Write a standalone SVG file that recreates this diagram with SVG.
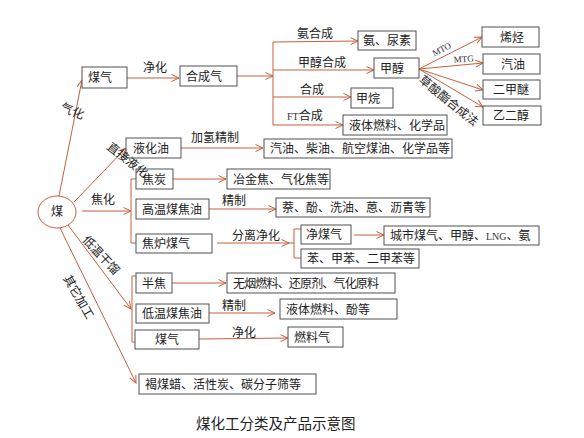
<svg xmlns="http://www.w3.org/2000/svg" width="584" height="438" viewBox="0 0 584 438">
<defs>
<marker id="ah" markerWidth="9" markerHeight="8" refX="8" refY="4" orient="auto" markerUnits="userSpaceOnUse">
<path d="M0.5,0.5 L8,4 L0.5,7.5" fill="none" stroke="#c4603e" stroke-width="1"/>
</marker>
</defs>
<style>
.b{fill:#fff;stroke:#505050;stroke-width:1}
.t{font-family:"Noto Sans CJK SC","Liberation Sans",sans-serif;font-size:12px;fill:#222}
.s{font-family:"Liberation Serif",serif;font-size:9px;fill:#333}
.c{fill:none;stroke:#c4603e;stroke-width:1}
.a{fill:none;stroke:#c4603e;stroke-width:1;marker-end:url(#ah)}
</style>
<rect width="584" height="438" fill="#fff"/>
<g id="connectors">
<path class="a" d="M59,196 L82,80"/>
<path class="a" d="M127,78 L179,78"/>
<path class="a" d="M237,76 L273,76"/>
<path class="c" d="M273,42 L273,125"/>
<path class="a" d="M273,42 L358,41"/>
<path class="a" d="M273,70 L374,70"/>
<path class="a" d="M273,97 L351,97"/>
<path class="a" d="M273,125 L343,125"/>
<path class="a" d="M419,69 L482,37"/>
<path class="a" d="M419,69 L483,63"/>
<path class="a" d="M419,69 L483,90"/>
<path class="a" d="M419,69 L483,107"/>
<path class="a" d="M74,202 L126,148"/>
<path class="a" d="M181,148 L263,148"/>
<path class="a" d="M82,211 L131,211"/>
<path class="c" d="M136,179 L131,179 L131,243 L136,243"/>
<path class="a" d="M173,179 L226,179"/>
<path class="a" d="M209,209 L276,209"/>
<path class="a" d="M217,243 L289,243"/>
<path class="c" d="M289,243 L294,243 M301,229 L294,229 L294,258 L301,258"/>
<path class="a" d="M354,235 L384,235"/>
<path class="a" d="M68,225 L131,309"/>
<path class="c" d="M136,276 L132,276 L132,342 L136,342"/>
<path class="a" d="M172,283 L226,283"/>
<path class="a" d="M209,313 L275,313"/>
<path class="a" d="M199,339 L288,338"/>
<path class="a" d="M60,228 L136,383"/>
</g>
<g id="n-coal"><ellipse cx="57" cy="212" rx="19" ry="16" fill="#fff" stroke="#c4603e" stroke-width="1"/><text class="t" x="57" y="216" text-anchor="middle">煤</text></g>
<g id="n-meiqi"><rect class="b" x="82" y="67" width="45" height="21"/><text class="t" x="88" y="82">煤气</text></g>
<g id="n-hechengqi"><rect class="b" x="180" y="66" width="57" height="20"/><text class="t" x="186" y="81">合成气</text></g>
<g id="n-an"><rect class="b" x="358" y="31" width="58" height="19"/><text class="t" x="363" y="45">氨、尿素</text></g>
<g id="n-jiachun"><rect class="b" x="374" y="58" width="45" height="20"/><text class="t" x="380" y="73">甲醇</text></g>
<g id="n-jiawan"><rect class="b" x="351" y="88" width="42" height="20"/><text class="t" x="356" y="103">甲烷</text></g>
<g id="n-ft"><rect class="b" x="343" y="115" width="104" height="20"/><text class="t" x="349" y="130">液体燃料、化学品</text></g>
<g id="n-xiting"><rect class="b" x="482" y="27" width="57" height="20"/><text class="t" x="500" y="42">烯烃</text></g>
<g id="n-qiyou1"><rect class="b" x="483" y="54" width="57" height="20"/><text class="t" x="501" y="69">汽油</text></g>
<g id="n-erjiami"><rect class="b" x="483" y="80" width="57" height="19"/><text class="t" x="493" y="94">二甲醚</text></g>
<g id="n-yierchun"><rect class="b" x="483" y="106" width="58" height="19"/><text class="t" x="493" y="120">乙二醇</text></g>
<g id="n-yehuayou"><rect class="b" x="126" y="138" width="55" height="20"/><text class="t" x="133" y="153">液化油</text></g>
<g id="n-qiyou2"><rect class="b" x="264" y="139" width="188" height="19"/><text class="t" x="270" y="153">汽油、柴油、航空煤油、化学品等</text></g>
<g id="n-jiaotan"><rect class="b" x="136" y="169" width="37" height="20"/><text class="t" x="142" y="184">焦炭</text></g>
<g id="n-yejinjiao"><rect class="b" x="227" y="169" width="103" height="20"/><text class="t" x="233" y="184">冶金焦、气化焦等</text></g>
<g id="n-gaowen"><rect class="b" x="136" y="199" width="73" height="20"/><text class="t" x="142" y="214">高温煤焦油</text></g>
<g id="n-nai"><rect class="b" x="276" y="198" width="154" height="19"/><text class="t" x="282" y="212">萘、酚、洗油、蒽、沥青等</text></g>
<g id="n-jiaolu"><rect class="b" x="136" y="234" width="76" height="19"/><text class="t" x="142" y="248">焦炉煤气</text></g>
<g id="n-jingmeiqi"><rect class="b" x="301" y="225" width="50" height="19"/><text class="t" x="306" y="239">净煤气</text></g>
<g id="n-chengshi"><rect class="b" x="384" y="226" width="155" height="19"/><text class="t" x="390" y="240">城市煤气、甲醇、<tspan class="s" style="font-size:10px">LNG</tspan>、氨</text></g>
<g id="n-ben"><rect class="b" x="301" y="249" width="118" height="19"/><text class="t" x="307" y="263">苯、甲苯、二甲苯等</text></g>
<g id="n-banjiao"><rect class="b" x="136" y="273" width="36" height="20"/><text class="t" x="142" y="288">半焦</text></g>
<g id="n-wuyan"><rect class="b" x="227" y="273" width="168" height="20"/><text class="t" x="233" y="288" textLength="146">无烟燃料、还原剂、气化原料</text></g>
<g id="n-diwen"><rect class="b" x="136" y="304" width="73" height="19"/><text class="t" x="142" y="318">低温煤焦油</text></g>
<g id="n-yeti"><rect class="b" x="280" y="299" width="117" height="20"/><text class="t" x="286" y="314">液体燃料、酚等</text></g>
<g id="n-meiqi2"><rect class="b" x="135" y="330" width="64" height="19"/><text class="t" x="155" y="344">煤气</text></g>
<g id="n-ranliaoqi"><rect class="b" x="288" y="327" width="55" height="20"/><text class="t" x="294" y="342">燃料气</text></g>
<g id="n-hemeila"><rect class="b" x="139" y="374" width="177" height="20"/><text class="t" x="145" y="389">褐煤蜡、活性炭、碳分子筛等</text></g>
<g id="labels">
<text class="t" transform="translate(71,115) rotate(22)" text-anchor="middle">气化</text>
<text class="t" x="143" y="72">净化</text>
<text class="t" x="297" y="38">氨合成</text>
<text class="t" x="298" y="67">甲醇合成</text>
<text class="t" x="300" y="94">合成</text>
<text class="t" x="287" y="120"><tspan class="s" style="font-size:10px">FT</tspan>合成</text>
<text class="s" transform="translate(443,52) rotate(-27)" text-anchor="middle">MTO</text>
<text class="s" transform="translate(464,62) rotate(-5)" text-anchor="middle">MTG</text>
<text class="t" transform="translate(446,104) rotate(39)" text-anchor="middle">草酸酯合成法</text>
<text class="t" transform="translate(125,163) rotate(38)" text-anchor="middle">直接液化</text>
<text class="t" x="191" y="142">加氢精制</text>
<text class="t" x="91" y="204">焦化</text>
<text class="t" x="222" y="205">精制</text>
<text class="t" x="232" y="240">分离净化</text>
<text class="t" transform="translate(98,258) rotate(47)" text-anchor="middle">低温干馏</text>
<text class="t" transform="translate(75,299) rotate(60)" text-anchor="middle">其它加工</text>
<text class="t" x="222" y="310">精制</text>
<text class="t" x="232" y="337">净化</text>
</g>
<g id="title"><text x="196" y="429" style="font-family:'Noto Sans CJK SC','Liberation Sans',sans-serif;font-size:14.5px;fill:#222">煤化工分类及产品示意图</text></g>
</svg>
